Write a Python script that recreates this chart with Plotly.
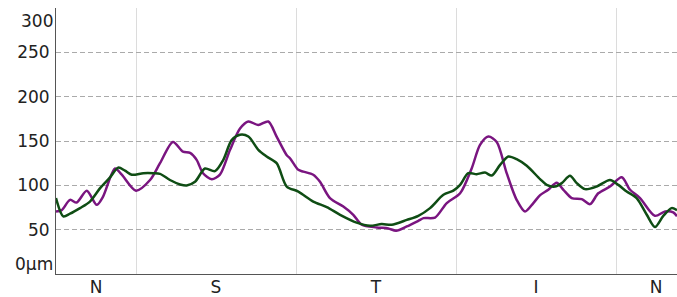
import plotly.graph_objects as go

# Purple series (angle in degrees, thickness in µm)
purple_deg = [0, 3.2, 7.9, 11.6, 17.3, 22.9, 26.4, 33.2, 37.0, 45.0, 52.9, 58.5, 65.8, 71.4, 75.4, 79.1,
              82.7, 87.6, 92.2, 97.9, 103.5, 108.2, 113.8, 119.4, 124.1, 129.8, 131.6, 136.3, 139.1, 144.7,
              148.5, 154.1, 161.6, 167.2, 172.0, 180.4, 186.9, 191.3, 197.3, 203.8, 206.7, 213.2, 219.8,
              227.3, 233.8, 238.5, 243.2, 247.9, 253.5, 259.1, 263.8, 268.5, 272.3, 276.9, 281.6, 285.4,
              290.1, 295.7, 300.4, 305.0, 311.6, 318.2, 322.9, 328.5, 336.9, 342.6, 347.2, 349.3]
purple_val = [70.5, 72, 83.6, 80.6, 94, 78, 87, 119, 112, 94, 106, 125, 149, 138, 136.5, 128.7,
              113.7, 107, 112, 140, 164, 172, 168, 172, 155, 134, 130.6, 117.5, 115.5, 112,
              104, 85.6, 76, 66.8, 55.5, 52.5, 51.4, 48.8, 53.6, 60, 63, 63.7, 80,
              91, 119, 145.6, 155, 149, 113.7, 83.7, 70.5, 80, 89, 95, 103, 95,
              85.6, 84.4, 78.8, 91, 98.6, 109, 95, 85.6, 65.6, 70.5, 69.4, 65]

# Green series
green_deg = [0, 4.1, 7.9, 13.5, 19.1, 24.8, 30.4, 35.0, 38.8, 42.6, 49.1, 54.7, 58.5, 64.1, 69.8, 73.5,
             78.2, 83.8, 89.4, 94.1, 98.8, 103.5, 108.2, 113.8, 118.5, 124.1, 129.8, 136.3, 144.7, 152.3,
             159.8, 169.1, 176.6, 183.2, 188.8, 197.3, 203.8, 210.4, 217.9, 223.5, 227.3, 231.9, 236.6,
             241.3, 245.1, 249.8, 254.4, 259.1, 264.8, 272.3, 276.0, 280.7, 284.5, 289.1, 292.9, 297.6,
             304.1, 311.6, 316.3, 321.0, 326.6, 332.3, 336.9, 341.6, 346.3, 349.3]
green_val = [85.6, 65, 68, 74.3, 81.7, 96.8, 109, 120, 116.6, 112, 113.7, 113.7, 113, 106, 101, 99.8,
             104, 119, 116, 128.7, 151, 157, 155, 140, 132.5, 125, 98.6, 93, 81.7, 75.4,
             66.8, 58, 54.4, 56.3, 55.5, 61, 65.6, 74.3, 89.3, 94, 100.5, 113.7, 112.6,
             114.4, 111, 123, 132.5, 129.5, 122, 107, 100.5, 98.6, 102.5, 110.7, 102.5, 95.7,
             98.6, 106, 100.5, 93, 85.6, 66.8, 53, 65.6, 74.3, 72]

sector_labels = ["N", "S", "T", "I", "N"]
sector_centers = [22.5, 90, 180, 270, 337.5]
sector_bounds = [45, 135, 225, 315]
grid_vals = [50, 100, 150, 200, 250]
grid_text = ["50", "100", "150", "200", "250"]
edge_vals = [300, 0]
edge_text = ["300", "0µm"]

fig = go.Figure()
fig.add_trace(go.Scatter(x=purple_deg, y=purple_val, mode="lines",
                         line=dict(color="#7a1580", width=2.5, shape="spline", smoothing=0.8),
                         showlegend=False, hoverinfo="skip"))
fig.add_trace(go.Scatter(x=green_deg, y=green_val, mode="lines",
                         line=dict(color="#0f4d14", width=2.5, shape="spline", smoothing=0.8),
                         showlegend=False, hoverinfo="skip"))

font_family = "DejaVu Sans"
fig.update_layout(
    width=677, height=297,
    margin=dict(l=56, r=0, t=8, b=23, autoexpand=False),
    paper_bgcolor="white", plot_bgcolor="white",
    font=dict(family=font_family, size=17, color="#222"),
    xaxis=dict(range=[0, 349.3], tickvals=sector_centers, ticktext=sector_labels,
               showgrid=False, zeroline=False, showline=True, linecolor="#555", linewidth=1,
               ticks="", tickfont=dict(size=17), automargin=False, ticklabelstandoff=-2,
               minor=dict(tickvals=sector_bounds, showgrid=True, gridcolor="#dcdcdc", gridwidth=1, ticks="")),
    yaxis=dict(range=[0, 300], tickvals=grid_vals, ticktext=grid_text, automargin=False,
               showgrid=True, gridcolor="#aaaaaa", griddash="5px,3px", gridwidth=1,
               zeroline=False, showline=True, linecolor="#555", linewidth=1,
               ticks="", ticklabelstandoff=2, tickfont=dict(size=17)),
)

for v, t, anc in zip(edge_vals, edge_text, ["top", "bottom"]):
    fig.add_annotation(x=0, xref="paper", y=v, yref="y", text=t, showarrow=False,
                       xanchor="right", yanchor=anc, xshift=-1, yshift=(-1 if anc == "top" else -2),
                       font=dict(size=17, color="#222"))

fig.write_html("out.html", config={"displayModeBar": False, "staticPlot": True},
               post_script="document.body.style.margin='0';document.body.style.overflow='hidden';")
